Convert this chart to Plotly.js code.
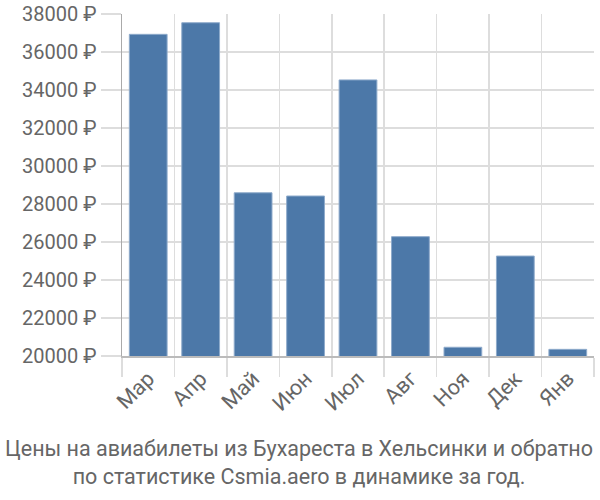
<!DOCTYPE html>
<html>
<head>
<meta charset="utf-8">
<script src="https://cdn.plot.ly/plotly-3.0.1.min.js"></script>
<style>html,body{margin:0;padding:0;background:#fff}#chart{width:600px;height:500px}</style>
</head>
<body>
<div id="chart"></div>
<script>
const categories = ["Мар", "Апр", "Май", "Июн", "Июл", "Авг", "Ноя", "Дек", "Янв"];
const prices = [36930, 37540, 28590, 28420, 34530, 26280, 20460, 25260, 20350];
const yTicks = [20000, 22000, 24000, 26000, 28000, 30000, 32000, 34000, 36000, 38000];
const yTickLabels = yTicks.map(v => v + " ₽");
const titleText = "Цены на авиабилеты из Бухареста в Хельсинки и обратно<br>по статистике Csmia.aero в динамике за год.";

const font = "Roboto, 'Liberation Sans', Arial, sans-serif";

Plotly.newPlot("chart", [{
  type: "bar",
  x: categories,
  y: prices,
  marker: {color: "#4c78a8", line: {color: "#8eaacb", width: 1}},
  width: 0.72,
  hoverinfo: "none"
}], {
  width: 600, height: 500,
  margin: {l: 122, r: 6, t: 14, b: 144},
  paper_bgcolor: "#fff", plot_bgcolor: "#fff",
  font: {family: font, color: "#666", size: 20},
  annotations: [{
    text: titleText,
    xref: "paper", yref: "paper",
    x: 0.374, xanchor: "center",
    y: -0.31, yanchor: "middle",
    showarrow: false,
    align: "center",
    font: {family: font, size: 21.5, color: "#666"}
  }],
  xaxis: {
    type: "category",
    tickson: "boundaries",
    showgrid: true, gridcolor: "#ddd", gridwidth: 1.5,
    ticks: "outside", ticklen: 19, tickcolor: "#ddd", tickwidth: 1.5,
    tickangle: -45,
    tickfont: {size: 21.5, color: "#666"},
    showline: true, linecolor: "#bbb", linewidth: 1.5,
    automargin: false
  },
  yaxis: {
    range: [20000, 38000],
    tickvals: yTicks, ticktext: yTickLabels,
    showgrid: true, gridcolor: "#ddd", gridwidth: 1.5,
    ticks: "outside", ticklen: 20, tickcolor: "#ddd", tickwidth: 1.5,
    tickfont: {size: 20, color: "#666"},
    showline: true, linecolor: "#aaa", linewidth: 1.5,
    zeroline: false,
    automargin: false
  },
  showlegend: false
}, {displayModeBar: false, staticPlot: true});
</script>
</body>
</html>
